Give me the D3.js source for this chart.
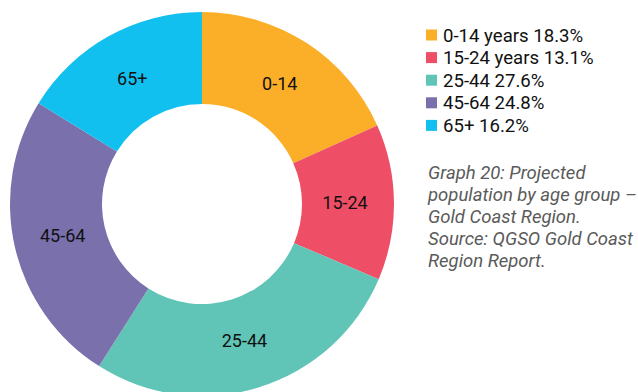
<!DOCTYPE html>
<html>
<head>
<meta charset="utf-8">
<script src="https://cdn.jsdelivr.net/npm/d3@7"></script>
<style>
  body { margin: 0; background: #fff; }
  svg { display: block; }
</style>
</head>
<body>
<div id="chart"></div>
<script>
const categories = ['0-14', '15-24', '25-44', '45-64', '65+'];
const legendNames = ['0-14 years', '15-24 years', '25-44', '45-64', '65+'];
const shares = [18.3, 13.1, 27.6, 24.8, 16.2];
const colors = ['#fbaf28', '#ef4f66', '#60c4b6', '#7970ac', '#12c0f0'];
const captionLines = [
  'Graph 20: Projected',
  'population by age group \u2013',
  'Gold Coast Region.',
  'Source: QGSO Gold Coast',
  'Region Report.'
];

const width = 638;
const height = 392;
const center = { x: 202, y: 204 };
const outerR = 192;
const innerR = 100;

const svg = d3.select('#chart').append('svg')
  .attr('width', width)
  .attr('height', height);

const color = d3.scaleOrdinal().domain(categories).range(colors);

const pie = d3.pie()
  .value(d => d.value)
  .sort(null);

const arc = d3.arc()
  .innerRadius(innerR)
  .outerRadius(outerR);

const labelArc = d3.arc()
  .innerRadius((innerR + outerR) / 2 - 3)
  .outerRadius((innerR + outerR) / 2 - 3);

const data = categories.map((c, i) => ({ key: c, value: shares[i] }));

const donut = svg.append('g')
  .attr('transform', `translate(${center.x},${center.y})`);

const slices = donut.selectAll('.slice')
  .data(pie(data))
  .enter()
  .append('g')
  .classed('slice', true);

slices.append('path')
  .attr('d', arc)
  .style('fill', d => color(d.data.key));

slices.append('text')
  .attr('transform', d => `translate(${labelArc.centroid(d)})`)
  .attr('text-anchor', 'middle')
  .attr('dy', '0.35em')
  .style('font-family', 'Roboto')
  .style('font-size', '18px')
  .style('fill', '#111')
  .text(d => d.data.key);

// legend
const legend = svg.append('g')
  .attr('transform', 'translate(426,35)');

const rows = legend.selectAll('.row')
  .data(data)
  .enter()
  .append('g')
  .classed('row', true)
  .attr('transform', (d, i) => `translate(0,${i * 22.6})`);

rows.append('rect')
  .attr('x', 0)
  .attr('y', -5.5)
  .attr('width', 11)
  .attr('height', 11)
  .style('fill', d => color(d.key));

rows.append('text')
  .attr('x', 17)
  .attr('dy', '0.35em')
  .style('font-family', 'Roboto')
  .style('font-size', '18.6px')
  .style('fill', '#111')
  .text((d, i) => `${legendNames[i]} ${d.value.toFixed(1)}%`);

// caption
svg.append('text')
  .attr('x', 428)
  .attr('y', 179)
  .style('font-family', 'Roboto')
  .style('font-style', 'italic')
  .style('font-size', '18.5px')
  .style('fill', '#5a5a5a')
  .selectAll('tspan')
  .data(captionLines)
  .enter()
  .append('tspan')
  .attr('x', 428)
  .attr('dy', (d, i) => i === 0 ? 0 : 21.9)
  .text(d => d);
</script>
</body>
</html>
